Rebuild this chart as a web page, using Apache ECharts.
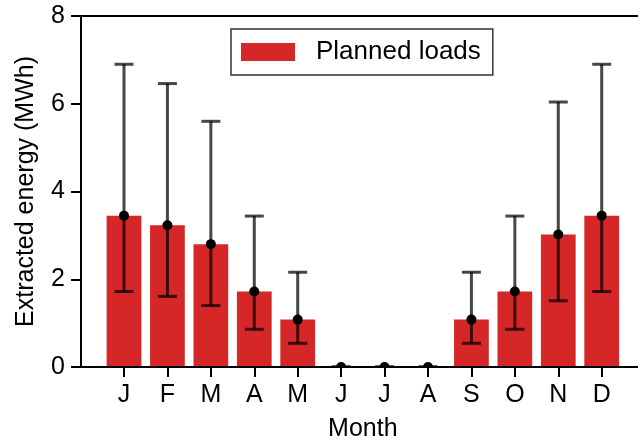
<!DOCTYPE html>
<html>
<head>
<meta charset="utf-8">
<script src="https://cdn.jsdelivr.net/npm/echarts@6/dist/echarts.min.js"></script>
<style>
  html, body { margin: 0; padding: 0; background: #fff; }
  #chart { width: 638px; height: 443px; }
</style>
</head>
<body>
<div id="chart"></div>
<script>
// Monthly planned extraction loads with their ranges (MWh)
const months = ['J', 'F', 'M', 'A', 'M', 'J', 'J', 'A', 'S', 'O', 'N', 'D'];
const loads = [3.45, 3.23, 2.80, 1.72, 1.08, 0, 0, 0, 1.08, 1.72, 3.02, 3.45];
const loadLow = [1.72, 1.61, 1.40, 0.86, 0.54, 0, 0, 0, 0.54, 0.86, 1.51, 1.72];
const loadHigh = [6.90, 6.46, 5.60, 3.44, 2.16, 0, 0, 0, 2.16, 3.44, 6.04, 6.90];
const yTicks = [0, 2, 4, 6, 8];

const FONT = 'Liberation Sans, Arial, Helvetica, sans-serif';
const monthIdx = months.map((m, i) => i);

const barData = loads.map((v, i) => [i, v]);
const errData = loads.map((v, i) => [i, v, loadLow[i], loadHigh[i]]);

const chart = echarts.init(document.getElementById('chart'), null, { renderer: 'canvas' });

chart.setOption({
  animation: false,
  backgroundColor: '#fff',
  grid: {
    left: 81, top: 16, width: 563.7, height: 351,
    containLabel: false,
    outerBoundsMode: 'none',
    show: true,
    borderColor: '#000',
    borderWidth: 2,
    backgroundColor: 'transparent'
  },
  legend: {
    left: 231, top: 29,
    padding: [10, 12, 10, 10],
    borderColor: '#333',
    borderWidth: 1.5,
    borderRadius: 0,
    backgroundColor: '#fff',
    itemWidth: 54, itemHeight: 18,
    icon: 'rect',
    textStyle: { fontFamily: FONT, fontSize: 26, color: '#000', padding: [0, 0, 0, 16], lineHeight: 26 },
    data: ['Planned loads']
  },
  xAxis: {
    type: 'value',
    min: -0.99, max: 11.99,
    z: 5,
    name: 'Month',
    nameLocation: 'middle',
    nameGap: 50,
    nameTextStyle: { fontFamily: FONT, fontSize: 25, color: '#000' },
    axisLine: { show: true, onZero: false, lineStyle: { color: '#000', width: 2 } },
    axisTick: { show: true, customValues: monthIdx, length: 10, lineStyle: { color: '#000', width: 2 } },
    axisLabel: {
      customValues: monthIdx,
      margin: 16,
      fontFamily: FONT, fontSize: 25, color: '#000',
      formatter: v => months[Math.round(v)]
    },
    splitLine: { show: false }
  },
  yAxis: {
    type: 'value',
    min: 0, max: 8, interval: 2,
    z: 5,
    name: 'Extracted energy (MWh)',
    nameLocation: 'middle',
    nameGap: 42,
    nameTextStyle: { fontFamily: FONT, fontSize: 25, color: '#000' },
    axisLine: { show: true, onZero: false, lineStyle: { color: '#000', width: 2 } },
    axisTick: { show: true, customValues: yTicks, length: 10, lineStyle: { color: '#000', width: 2 } },
    axisLabel: {
      customValues: yTicks,
      margin: 16,
      fontFamily: FONT, fontSize: 25, color: '#000'
    },
    splitLine: { show: false }
  },
  series: [
    {
      name: 'Planned loads',
      type: 'bar',
      data: barData,
      barWidth: '80%',
      itemStyle: { color: '#d62728' }
    },
    {
      name: 'range',
      type: 'custom',
      clip: true,
      data: errData,
      z: 3,
      renderItem: function (params, api) {
        const x = api.value(0);
        const mid = api.coord([x, api.value(1)]);
        const lo = api.coord([x, api.value(2)]);
        const hi = api.coord([x, api.value(3)]);
        const cap = 9.5;
        const stroke = { stroke: 'rgba(0,0,0,0.72)', lineWidth: 3, fill: null };
        return {
          type: 'group',
          children: [
            { type: 'line', shape: { x1: lo[0], y1: lo[1], x2: hi[0], y2: hi[1] }, style: stroke },
            { type: 'line', shape: { x1: lo[0] - cap, y1: lo[1], x2: lo[0] + cap, y2: lo[1] }, style: stroke },
            { type: 'line', shape: { x1: hi[0] - cap, y1: hi[1], x2: hi[0] + cap, y2: hi[1] }, style: stroke },
            { type: 'circle', shape: { cx: mid[0], cy: mid[1], r: 5 }, style: { fill: '#000' } }
          ]
        };
      }
    }
  ]
});
</script>
</body>
</html>
